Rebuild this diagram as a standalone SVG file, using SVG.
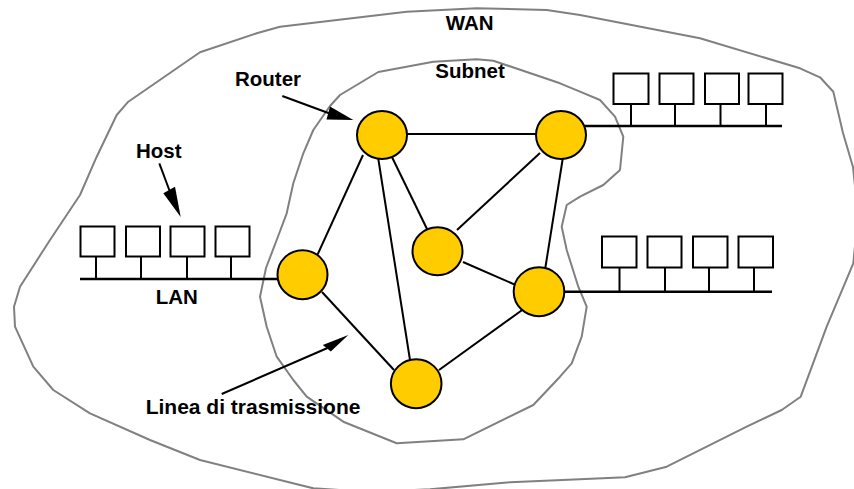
<svg xmlns="http://www.w3.org/2000/svg" width="854" height="489" viewBox="0 0 854 489">
  <style>
    .area { fill: none; stroke: #808080; stroke-width: 2; stroke-linejoin: round; }
    .link { stroke: #000; stroke-width: 2; fill: none; }
    .bus { stroke: #000; stroke-width: 2.5; fill: none; }
    .host { fill: #fff; stroke: #000; stroke-width: 2; }
    .router { fill: #FFCC00; stroke: #000; stroke-width: 2; }
    .lbl { font-family: "Liberation Sans", Arial, sans-serif; font-weight: bold; font-size: 20.5px; fill: #000; }
    .head { fill: #000; stroke: none; }
  </style>

  <!-- WAN boundary -->
  <path id="wan" class="area" d="M476.7,8.3 L546.7,10 L580,15 L700,38.3 L800,68.3 L820,77.3 L833.3,91.7 L843,133 L853,167 L858,215 L853.3,263.3 L826.7,326.7 L800.7,396.7 L781.7,410 L746.7,426.7 L666.7,466.7 L625,477.3 L580,479.3 L510,482.3 L430,489.3 L370,492 L313.3,488.3 L300,485 L200,460 L150,440 L90,413.3 L53.3,390 L33.3,366.7 L15,326.7 L14,306.7 L20,286.7 L50,240 L80,195 L96.7,156.7 L116.7,115 L128.3,101.7 L200,52.3 L256.7,33.3 L280,26.7 L406.7,11.7 Z"/>

  <!-- Subnet boundary -->
  <path id="subnet" class="area" d="M378.3,72 L433.3,61.7 L476.7,59.3 L493.3,60.7 L560,83.3 L580,91.7 L600,100 L615,116.7 L623.3,136.7 L620,170 L603.3,185 L580,196.7 L566.7,205 L561.7,226.7 L566.7,250 L578.3,286.7 L586.7,306.7 L581.7,336.7 L571.7,363.3 L560,376.7 L533.3,405 L463.3,439.3 L396.7,443.3 L343.3,421.7 L306.7,396.7 L293.3,380 L276.7,356.7 L266.7,326.7 L260,296.7 L266,268 L276.7,240 L286.7,213.3 L293.3,183.3 L303.3,153.3 L313.3,130 L330,106 L340,95 Z"/>

  <!-- LAN buses with host stations -->
  <g id="lan-left">
    <line class="bus" x1="80" y1="279" x2="290" y2="279"/>
    <line class="link" x1="96" y1="256" x2="96" y2="279"/>
    <line class="link" x1="141" y1="256" x2="141" y2="279"/>
    <line class="link" x1="187" y1="256" x2="187" y2="279"/>
    <line class="link" x1="231" y1="256" x2="231" y2="279"/>
    <rect class="host" x="80.5" y="226.5" width="34" height="30"/>
    <rect class="host" x="126" y="226.5" width="34" height="30"/>
    <rect class="host" x="170.5" y="226.5" width="34" height="30"/>
    <rect class="host" x="215.5" y="226.5" width="34" height="30"/>
  </g>
  <g id="lan-top-right">
    <line class="bus" x1="570" y1="126" x2="782" y2="126"/>
    <line class="link" x1="631" y1="104" x2="631" y2="126"/>
    <line class="link" x1="675" y1="104" x2="675" y2="126"/>
    <line class="link" x1="720.5" y1="104" x2="720.5" y2="126"/>
    <line class="link" x1="766" y1="104" x2="766" y2="126"/>
    <rect class="host" x="613.5" y="73.5" width="35" height="30.5"/>
    <rect class="host" x="659.5" y="73.5" width="34" height="30.5"/>
    <rect class="host" x="705" y="73.5" width="34" height="30.5"/>
    <rect class="host" x="748.5" y="73.5" width="34" height="30.5"/>
  </g>
  <g id="lan-bottom-right">
    <line class="bus" x1="550" y1="291.7" x2="772" y2="291.7"/>
    <line class="link" x1="619.5" y1="267.5" x2="619.5" y2="291.7"/>
    <line class="link" x1="665" y1="267.5" x2="665" y2="291.7"/>
    <line class="link" x1="709" y1="267.5" x2="709" y2="291.7"/>
    <line class="link" x1="754" y1="267.5" x2="754" y2="291.7"/>
    <rect class="host" x="602" y="236.5" width="34.5" height="31"/>
    <rect class="host" x="647.5" y="236.5" width="34" height="31"/>
    <rect class="host" x="693" y="236.5" width="34.5" height="31"/>
    <rect class="host" x="738.5" y="236.5" width="34.5" height="31"/>
  </g>

  <!-- transmission lines between routers -->
  <g id="links">
    <line class="link" x1="382" y1="134" x2="561" y2="134"/>
    <line class="link" x1="363" y1="155" x2="316" y2="258"/>
    <line class="link" x1="378" y1="157" x2="410" y2="360"/>
    <line class="link" x1="390" y1="153" x2="427" y2="229"/>
    <line class="link" x1="540" y1="153" x2="457" y2="230"/>
    <line class="link" x1="563" y1="157" x2="545" y2="270"/>
    <line class="link" x1="463" y1="262" x2="518" y2="286"/>
    <line class="link" x1="322" y1="292" x2="394" y2="370"/>
    <line class="link" x1="439" y1="370" x2="525" y2="308"/>
  </g>

  <!-- routers -->
  <g id="router-1"><ellipse class="router" cx="382" cy="135" rx="25" ry="24"/></g>
  <g id="router-2"><ellipse class="router" cx="561" cy="135" rx="25" ry="24"/></g>
  <g id="router-3"><ellipse class="router" cx="437.5" cy="251.3" rx="25" ry="24"/></g>
  <g id="router-4"><ellipse class="router" cx="302.5" cy="274.7" rx="25" ry="24.5"/></g>
  <g id="router-5"><ellipse class="router" cx="539" cy="291.7" rx="25.3" ry="24.5"/></g>
  <g id="router-6"><ellipse class="router" cx="416.2" cy="383.7" rx="25.3" ry="24.5"/></g>

  <!-- callout arrows -->
  <g id="callouts">
    <line class="link" x1="282.3" y1="96" x2="329" y2="113.3"/>
    <polygon class="head" points="353.3,120 330,106.5 326.5,119.5"/>
    <line class="link" x1="159.3" y1="163.3" x2="169.5" y2="190.5"/>
    <polygon class="head" points="180.7,217 163.3,193.3 175,186.7"/>
    <line class="link" x1="221.7" y1="394" x2="327.5" y2="348"/>
    <polygon class="head" points="348.3,335 322.8,345 330.8,351.5"/>
  </g>

  <!-- labels -->
  <g id="labels">
    <text class="lbl" x="445.7" y="30">WAN</text>
    <text class="lbl" x="435.3" y="78.3">Subnet</text>
    <text class="lbl" x="235" y="85.7">Router</text>
    <text class="lbl" x="136" y="158.3">Host</text>
    <text class="lbl" x="155.7" y="304">LAN</text>
    <text class="lbl" x="145.7" y="414" style="font-size:21px">Linea di trasmissione</text>
  </g>
</svg>
